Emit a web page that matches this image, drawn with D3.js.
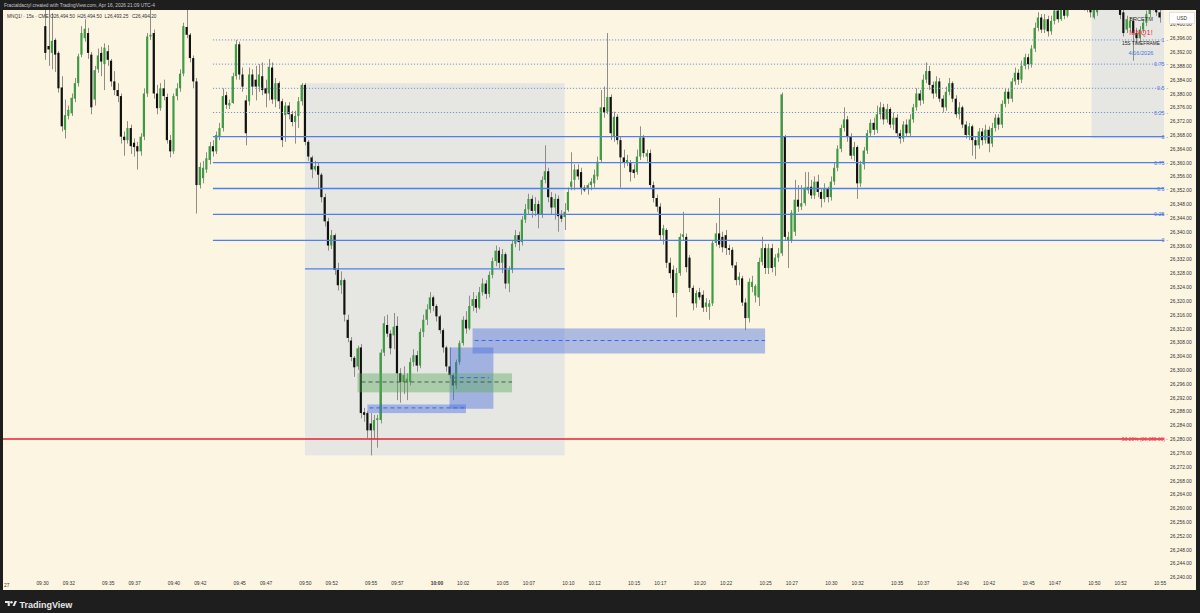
<!DOCTYPE html>
<html><head><meta charset="utf-8">
<script src="https://cdn.jsdelivr.net/npm/d3@7/dist/d3.min.js"></script>
<style>
html,body{margin:0;padding:0;background:#1e1e1e;}
svg{display:block;}
text{font-family:"Liberation Sans","DejaVu Sans",Arial,sans-serif;}
</style></head><body>
<svg id="chart" width="1200" height="613"></svg>
<script>
// ---------------- data ----------------
const startTime = "09:30:15";   // time of first visible candle (15 s bars)
const stepSeconds = 15;
const opens = [
26399.5,26393.75,26391.75,26395.5,26391.75,26381.75,26369.5,26373.5,26374.25,26378.5,
26383,26391.25,26396,26397.5,26391.25,26378.25,26387,26391.75,26388.5,26392.25,
26389.5,26383.5,26381,26379.25,26367.5,26366.5,26370,26365.75,26364.75,26363.25,
26367.5,26380,26396.5,26397.5,26380,26375.75,26381.5,26379,26366.5,26363.25,
26379.25,26381.5,26385.75,26399.25,26397,26390.25,26383.5,26353.5,26355.5,26358,
26360.75,26364.75,26363.25,26367.5,26370,26379.5,26376.5,26377.25,26385,26394.25,
26385.5,26378,26377.75,26385.5,26384,26382,26385,26381.5,26380,26387.5,
26378.25,26383,26377.75,26373.75,26376.5,26374,26371.75,26373.5,26377.75,26382.5,
26366,26361.5,26358,26359,26356.5,26350,26343,26336,26339,26329,
26324.5,26326,26314.5,26308.5,26303.5,26301,26306.5,26287.75,26287.5,26284.5,
26282.5,26285.5,26285.5,26305,26313,26310.5,26310,26312.75,26299,26296.5,
26296.5,26296.5,26302.25,26304.25,26301.25,26311,26314.5,26317.5,26321,26318.5,
26315.5,26311.5,26306.5,26301,26298.5,26295.5,26302.25,26307.75,26314.5,26312,
26318.5,26320.5,26318,26322.5,26325,26322,26327.5,26331.5,26334.5,26331,
26333.5,26325,26329,26336.5,26339,26337,26343.5,26346.5,26349.5,26346,
26348,26345,26355,26357.5,26350,26347,26349.5,
26344.75,26344.25,26346.25,26353,26355,26358,26357.25,26352.75,26352.5,26353.5,26354,26356,26360.75,26376,26374.75,26379,26367.5,26373.25,26366.5,26361.5,26360,26360,26358,26357.25,26361.75,26367.25,26361.75,26362.75,26353.5,26349.75,26347.25,26339,26340.5,26331,26329,26322.25,26328,26338.5,26338.5,26332.5,26323.75,26319.25,26322.5,26321.75,26318.25,26318.25,26319.25,26336.75,26339.5,26338.5,26339,26335.25,26334.75,26330.25,26326,26326.5,26319.5,26315,26324,26321.5,26321,26331.25,26335.25,26329.5,26335.25,26329.75,26332.5,26333.75,26367.5,26337.5,26337.5,26340,26349.25,26347.25,26348.25,26352,
26353,26350.5,26354.5,26351.5,26349.5,26352.5,26350,26354.5,26358.5,26364,
26370,26372.5,26367.5,26362,26364.5,26354,26359.5,26363.5,26368.5,26371.5,
26369.5,26374,26376,26372.5,26375.5,26371,26373,26368.5,26367,26371,
26368.5,26372.5,26376,26380,26378,26384,26386.5,26382.5,26380,26383.5,
26378.5,26376,26380.5,26383,26378.5,26374,26376,26371,26368,26370.5,
26366.5,26365,26369,26366.5,26369.5,26365.5,26370,26373,26371,26377,
26380.5,26378.5,26383.5,26386,26384,26388,26390.5,26388.5,26393,26399,
26402,26398.5,26401.5,26398,26401,26404,26401.5,26404.5,26402.5,26406,
26409,26406.5,26409.5,26406,26408,26405,26402,26403.5,26405,26408,
26411,26409,26411.5,26408,26404.25,26403.5,26398.5,26399,26401,26397.5,
26396,26398.5,26400.5,26403,26405,26406.5,26403.5];
const highs = [
26406,26405.5,26403.25,26396,26392.25,26385,26378.25,26376.5,26380,26384.5,
26391.5,26399.5,26401.5,26399,26392,26388,26393,26393.5,26394.5,26394,
26390,26386.5,26383,26380,26369,26372,26371,26367,26366,26368.5,
26381.5,26397.5,26404.5,26398.5,26382.5,26383,26384,26380,26368,26380,
26383,26387,26400.5,26405.5,26397.5,26391,26384.5,26360,26360.5,26363,
26366,26366.5,26369,26371.5,26381.5,26380.5,26378.25,26386,26395.5,26395,
26387.5,26379.5,26387.5,26387,26388,26388.5,26389,26384,26390,26389,
26384.5,26383.5,26378.5,26377.5,26377.5,26375,26375,26379,26383,26383,
26366.5,26362,26360.5,26360,26357,26351,26344,26340.5,26339.5,26331,
26328.5,26326.5,26316,26309.5,26304,26307,26307.5,26289,26288,26287.5,
26287,26287,26306,26315.5,26316,26311.5,26316.5,26315.5,26300.5,26301,
26299,26303.5,26306,26305.5,26312,26316,26319,26322.5,26321.5,26319,
26316,26312,26307,26306.5,26299,26303,26308.5,26315.5,26317,26321.5,
26322.5,26321.5,26324,26326.5,26326,26328.5,26332.5,26336,26335.5,26335,
26334,26330,26337.5,26340.5,26340,26344.5,26348,26351,26350.5,26350,
26349,26356,26365,26358.5,26351.5,26351,26350.5,
26346.25,26348.25,26352.75,26363,26359.5,26359.5,26358.5,26353.5,26354,26355.5,26358,26361.75,26381,26382,26397.5,26379.75,26374.75,26374,26367.5,26363.75,26362.25,26360.75,26359.5,26363.75,26370.5,26368,26363.75,26363.75,26354.5,26350.75,26348.25,26342,26341,26332.5,26330.25,26329.5,26339.5,26345.75,26339.5,26333.25,26324.5,26323,26323.75,26323,26320.75,26320.25,26337.5,26342.5,26349.75,26340,26340.5,26336.25,26335.5,26331.25,26328.25,26327.25,26320.75,26326.5,26327.25,26324.75,26332.5,26338.5,26336.5,26336.5,26336.5,26333.5,26335.25,26380.25,26368,26340,26346.25,26355,26353.5,26353.5,26357.25,26357.25,
26355,26356,26356.5,26352.5,26354,26353,26356,26360,26365,26371,
26376,26373.5,26368.5,26366,26365,26360.5,26364.5,26369.5,26372.5,26373,
26376.5,26377.5,26377,26377,26376,26374.5,26374,26369.5,26372,26372.5,
26374,26377,26381.5,26381,26385.5,26389,26388,26383.5,26385,26384.5,
26379.5,26382,26384.5,26383.5,26379.5,26377.5,26376.5,26372,26371.5,26371,
26367.5,26370,26370,26371,26370.5,26371.5,26374,26374,26378,26381.5,
26381.5,26384.5,26387.5,26387,26389.5,26391.5,26391.5,26394,26400.5,26403.5,
26403,26403,26402.5,26402.5,26406,26405.5,26407,26406,26408,26410.5,
26410,26411,26410,26409.5,26409,26406,26406,26407,26409.5,26412.5,
26412,26413,26412,26409,26405.5,26404.5,26402.5,26402,26402,26399,
26399.5,26401.5,26404,26406.5,26408,26407.5,26405];
const lows = [
26389.75,26388,26387,26386.25,26380.25,26369,26367,26372.5,26373.5,26377.5,
26382,26390.5,26395,26390,26374,26376.5,26386,26385,26381,26388,
26382,26379.5,26377.5,26365.5,26362,26365.5,26362.5,26361.75,26358,26362,
26366.5,26379,26395.5,26378.5,26374,26375,26378,26365.5,26361.5,26362.5,
26378,26380.5,26385,26396,26389,26381.5,26345.25,26352.5,26354,26357,
26359.5,26361.75,26362.5,26366.5,26369,26375.5,26375.5,26377,26384,26384,
26380.5,26365,26376.5,26379.5,26378,26380.5,26379.5,26376,26378,26377,
26376,26375.5,26364.5,26366,26372.5,26370.5,26365.5,26370,26376.5,26365,
26360.5,26355.5,26357.5,26352.5,26348.5,26341.5,26334.5,26335,26327.5,26323,
26322,26314,26308,26302.5,26298,26300,26286,26285,26280.25,26275.25,
26280,26277.5,26284.5,26304,26309.5,26304.5,26306,26291.25,26290.5,26293,
26291.25,26295.5,26301,26299.5,26300.5,26309.5,26313,26316.5,26317,26314,
26310.5,26305,26299.5,26297.5,26291.25,26294.5,26301.5,26307,26310.5,26311.5,
26317,26316.5,26317.5,26321.5,26320.5,26321,26326.5,26330,26329.5,26328,
26323.5,26322.5,26328,26335.5,26334.5,26336,26342.5,26345,26344,26344.5,
26341,26344,26354,26348.5,26345,26343.5,26340,
26342.75,26340.5,26345.75,26352,26352,26355,26350.75,26351.5,26350.75,26352,26352.75,26355,26360,26373,26374,26366.5,26366,26365.25,26352.75,26358.5,26359,26354.5,26355.5,26356.5,26360.75,26361.5,26360.25,26352.75,26348.5,26345.75,26337.5,26336.25,26329.5,26326.5,26321,26315.25,26327.25,26337.5,26328.25,26322.5,26317.25,26318,26320.25,26316.75,26316.75,26314.5,26318.5,26335.75,26335.25,26334,26333.25,26333.25,26329.5,26324.5,26324.5,26318.5,26311.5,26313.75,26322.5,26319.5,26318.5,26330.25,26327.75,26327.75,26328.25,26327.25,26331.25,26333,26337.5,26329.5,26336.75,26338.75,26345.75,26346.25,26347.5,26351,
26349.5,26349.5,26350,26347,26348.5,26348.5,26349,26353.5,26357.5,26363,
26369,26366,26361,26360.5,26349.5,26353,26358,26362.5,26367.5,26368,
26368.5,26372.5,26371,26371.5,26370,26369.5,26367.5,26365.5,26366,26367.5,
26367.5,26371.5,26375,26376.5,26377,26383,26381,26378.5,26379,26377.5,
26374.5,26375,26379.5,26377.5,26373,26372.5,26370,26367,26366.5,26362,
26361,26364,26365,26365.5,26363,26364.5,26369,26369.5,26370,26376,
26377,26377.5,26382.5,26382.5,26383,26387,26387,26387.5,26392,26398,
26397.5,26397.5,26396.5,26397,26400,26400.5,26401,26401.5,26402,26405,
26405.5,26405.5,26404.5,26404,26403.5,26402,26401.5,26402.5,26404.5,26407,
26407.5,26408,26406.5,26404.5,26401.5,26396.5,26397.5,26398,26389.5,26394.5,
26395,26397.5,26399.5,26402,26404,26402.5,26400.5];
const closes = [
26391.75,26392.75,26395.25,26391.25,26381.5,26370.5,26373.75,26375.25,26378.75,26383,
26390.75,26397.5,26398.75,26391.75,26376,26386.75,26391,26389.25,26393.25,26389.75,
26383.5,26381,26379.25,26367.5,26366.5,26370,26364.75,26364.5,26363.25,26367.5,
26380,26396.5,26397,26380,26375.75,26381.5,26379.25,26366.5,26363.25,26379.25,
26381.5,26385.75,26399.5,26397,26390.25,26383.5,26353.5,26358.75,26358.5,26361.25,
26364.75,26363.25,26368,26370,26379.25,26376.75,26377.25,26385,26394.25,26385.5,
26382,26368.5,26385.5,26382,26382,26385.5,26381,26380,26387.75,26378.25,
26383,26377.75,26366.5,26376.5,26374,26371.75,26373.5,26377.75,26382.5,26366,
26361.75,26358,26359,26356.5,26350,26343,26336,26339,26329,26324.5,
26326,26316,26309.25,26303.75,26300.75,26306.25,26287.5,26287,26282.5,26282.5,
26285.5,26286,26305,26313.5,26310.5,26306.25,26312.5,26299,26296.5,26298.5,
26297.5,26302.25,26304.25,26301.25,26311,26314.5,26317.5,26321,26318.5,26315.5,
26311.5,26306.5,26301,26298.5,26295.5,26302.25,26307.75,26314.5,26312,26318.5,
26320.5,26318,26322.5,26325,26322,26327.5,26331.5,26334.5,26331,26333.5,
26325,26329,26336.5,26339,26337,26343.5,26346.5,26349.5,26346,26348,
26345,26355,26357.5,26350,26347,26349.5,26344.5,
26343.75,26345.75,26351.5,26354.5,26358,26356,26352.75,26352,26353.5,26354.5,26356.5,26360.25,26376,26374.5,26379,26368.5,26373.25,26366.5,26361.5,26360,26360.75,26357.25,26357,26361.75,26367.25,26362.75,26362.75,26353.5,26349.75,26347.25,26339,26341,26331,26328,26322.25,26328,26338.5,26339.25,26329.75,26323.75,26319.25,26322.25,26321,26318,26319.5,26319.25,26336.75,26339.5,26336.25,26335.5,26335.25,26334.75,26330.25,26326,26327,26319.5,26315,26325.5,26325.5,26324.25,26331.25,26335.25,26329.5,26335.25,26329.5,26332.5,26333.75,26379.75,26338.5,26338.5,26345.5,26349.25,26347.25,26348.25,26352.75,26353,
26350.5,26354.5,26351.5,26349.5,26352.5,26350,26354.5,26358.5,26364,26370,
26372.5,26367.5,26362,26364.5,26354,26359.5,26363.5,26368.5,26371.5,26369.5,
26374,26376,26372.5,26375.5,26371,26373,26368.5,26367,26371,26368.5,
26372.5,26376,26380,26378,26384,26386.5,26382.5,26380,26383.5,26378.5,
26376,26380.5,26383,26378.5,26374,26376,26371,26368,26370.5,26366.5,
26365,26369,26366.5,26369.5,26365.5,26370,26373,26371,26377,26380.5,
26378.5,26383.5,26386,26384,26388,26390.5,26388.5,26393,26399,26402,
26398.5,26401.5,26398,26401,26404,26401.5,26404.5,26402.5,26406,26409,
26406.5,26409.5,26406,26408,26405,26403.5,26404.25,26405,26408,26411,
26409,26411.5,26408,26405.5,26402.75,26397.5,26401.5,26401,26397.5,26396,
26398.5,26400.5,26403,26405,26406.5,26403.5,26402];

const priceTicks = [26240,26244,26248,26252,26256,26260,26264,26268,26272,26276,26280,26284,26288,26292,26296,26300,26304,26308,26312,26316,26320,26324,26328,26332,26336,26340,26344,26348,26352,26356,26360,26364,26368,26372,26376,26380,26384,26388,26392,26396,26400];
const timeTicks = ["09:30","09:32","09:35","09:37","09:40","09:42","09:45","09:47","09:50","09:52","09:55","09:57","10:00","10:02","10:05","10:07","10:10","10:12","10:15","10:17","10:20","10:22","10:25","10:27","10:30","10:32","10:35","10:37","10:40","10:42","10:45","10:47","10:50","10:52","10:55"];
const partialTick = "27";   // "09:27" cut at the left edge

// drawings (time, price)
const grayBoxes = [["09:50:00","10:09:45",26383.0,26275.25],["10:49:50","10:56:00",26420,26367.0]];
const fibUpperLevels = [26367.5,26374.5,26381.5,26388.5,26395.5];
const fibUpperLabels = ["0","0.25","0.5","0.75","1"];
const fibLowerLevels = [26337.5,26345,26352.5,26360,26367.5];
const fibLowerLabels = ["0","0.25","0.5","0.75","1"];
const fibStart = "09:43:00";
const midLine = ["09:50:00","10:09:45",26329.25];
const redLevel = 26280;
const redLabel = "50.00% (26,280.00)";
const blueZones = [["10:02:45","10:25:00",26312.0,26304.75,26308.5],["10:01:00","10:04:20",26306.5,26288.75,null],["09:54:45","10:02:15",26290.0,26287.5,26289.0]];
const greenZones = [["09:54:00","10:05:45",26299.0,26293.5,26296.5]];
const blueDash = [["10:01:15","10:04:00",26297.75]];
const header = "Fractaldactyl created with TradingView.com, Apr 16, 2026 21:09 UTC-4";
const legendSym = "MNQ1! · 15s · CME";
const legendOHLC = ["O26,494.50","H26,494.50","L26,493.25","C26,494.20"];
const noteLines = ["BRCETM","MNQ1!","15S TIMEFRAME","4/16/2026"];

// ---------------- drawing ----------------
const W = 1200, H = 613;
const plot = {l:3, r:1164, t:10, b:579};
const svg = d3.select("#chart");
const pT = d3.timeParse("%H:%M:%S");
const pM = d3.timeParse("%H:%M");
const x = d3.scaleTime().domain([pT("09:30:00"), pT("10:55:00")]).range([42, 1159.5]);
const y = d3.scaleLinear().domain([26240, 26280]).range([577.2, 439]);
const t0 = pT(startTime);
const times = closes.map((_, i) => new Date(t0.getTime() + i * stepSeconds * 1000));
const barW = (x(new Date(t0.getTime() + stepSeconds*1000)) - x(t0)) * 0.66;

svg.append("rect").attr("width", W).attr("height", H).attr("fill", "#1e1e1e");
svg.append("rect").attr("x", plot.l).attr("y", plot.t).attr("width", 1196 - plot.l).attr("height", 590 - plot.t).attr("fill", "#fbf5e2");

const defs = svg.append("defs");
defs.append("clipPath").attr("id", "clip").append("rect")
  .attr("x", plot.l).attr("y", plot.t).attr("width", plot.r - plot.l).attr("height", plot.b - plot.t);
const g = svg.append("g").attr("clip-path", "url(#clip)");

// gray boxes
g.selectAll(".gb").data(grayBoxes).join("rect")
  .attr("x", d => x(pT(d[0]))).attr("y", d => y(d[2]))
  .attr("width", d => x(pT(d[1])) - x(pT(d[0]))).attr("height", d => y(d[3]) - y(d[2]))
  .attr("fill", "#e6e6e2");

// candles
const cg = g.append("g");
const idx = d3.range(closes.length);
cg.selectAll(".wick").data(idx).join("line")
  .attr("x1", i => Math.round(x(times[i])) + 0.5).attr("x2", i => Math.round(x(times[i])) + 0.5)
  .attr("y1", i => y(highs[i])).attr("y2", i => y(lows[i]))
  .attr("stroke", "#8e8e86").attr("stroke-width", 1);
cg.selectAll(".body").data(idx).join("rect")
  .attr("x", i => x(times[i]) - barW/2)
  .attr("y", i => y(Math.max(opens[i], closes[i])))
  .attr("width", barW)
  .attr("height", i => Math.max(0.8, Math.abs(y(opens[i]) - y(closes[i]))))
  .attr("fill", i => closes[i] >= opens[i] ? "#3d9b41" : "#111111");

// fib lines
const fibX0 = x(pT(fibStart));
g.selectAll(".fu").data(fibUpperLevels.slice(1)).join("line")
  .attr("x1", fibX0).attr("x2", plot.r).attr("y1", d => y(d)).attr("y2", d => y(d))
  .attr("stroke", "#7f93d6").attr("stroke-width", 1).attr("stroke-dasharray", "1.2,1.8");
g.selectAll(".fl").data(fibLowerLevels).join("line")
  .attr("x1", fibX0).attr("x2", plot.r).attr("y1", d => y(d)).attr("y2", d => y(d))
  .attr("stroke", "#4f7fe8").attr("stroke-width", 1.3);
g.append("line").attr("x1", x(pT(midLine[0]))).attr("x2", x(pT(midLine[1])))
  .attr("y1", y(midLine[2])).attr("y2", y(midLine[2])).attr("stroke", "#4f7fe8").attr("stroke-width", 1.2);

// zones
g.selectAll(".bz").data(blueZones).join("rect")
  .attr("x", d => x(pT(d[0]))).attr("y", d => y(d[2]))
  .attr("width", d => x(pT(d[1])) - x(pT(d[0]))).attr("height", d => y(d[3]) - y(d[2]))
  .attr("fill", "rgb(60,100,222)").attr("fill-opacity", 0.4);
g.selectAll(".bzl").data(blueZones.filter(d => d[4] !== null)).join("line")
  .attr("x1", d => x(pT(d[0])) + 2).attr("x2", d => x(pT(d[1])))
  .attr("y1", d => y(d[4])).attr("y2", d => y(d[4]))
  .attr("stroke", "#3c64f0").attr("stroke-width", 1).attr("stroke-dasharray", "4,3");
g.selectAll(".gz").data(greenZones).join("rect")
  .attr("x", d => x(pT(d[0]))).attr("y", d => y(d[2]))
  .attr("width", d => x(pT(d[1])) - x(pT(d[0]))).attr("height", d => y(d[3]) - y(d[2]))
  .attr("fill", "rgb(90,170,90)").attr("fill-opacity", 0.42);
g.selectAll(".gzl").data(greenZones).join("line")
  .attr("x1", d => x(pT(d[0])) + 4).attr("x2", d => x(pT(d[1])))
  .attr("y1", d => y(d[4])).attr("y2", d => y(d[4]))
  .attr("stroke", "#4b5a5a").attr("stroke-width", 1).attr("stroke-dasharray", "4,3");
g.selectAll(".bd").data(blueDash).join("line")
  .attr("x1", d => x(pT(d[0]))).attr("x2", d => x(pT(d[1])))
  .attr("y1", d => y(d[2])).attr("y2", d => y(d[2]))
  .attr("stroke", "#3c64f0").attr("stroke-width", 1).attr("stroke-dasharray", "4,3");

// red level
g.append("line").attr("x1", plot.l).attr("x2", plot.r).attr("y1", y(redLevel)).attr("y2", y(redLevel))
  .attr("stroke", "#e52238").attr("stroke-width", 1.6);

// level labels
const lab = svg.append("g").attr("text-anchor", "end");
const fibAll = fibUpperLevels.map((v, i) => [v, fibUpperLabels[i]]).concat(fibLowerLevels.slice(0, 4).map((v, i) => [v, fibLowerLabels[i]]));
lab.selectAll(".fb").data(fibAll).join("text").attr("font-size", 5.5)
  .attr("x", 1168).attr("y", d => y(d[0]) + 2).attr("fill", "#4a78e6").text(d => d[1] + " -");
lab.append("text").attr("font-size", 4.9).attr("x", 1168).attr("y", y(redLevel) + 1.8).attr("fill", "#ee3347").text(redLabel + " -");

// note box text
const nt = svg.append("g").attr("text-anchor", "middle");
nt.append("text").attr("x", 1141).attr("y", 21).attr("font-size", 5.6).attr("fill", "#333").text(noteLines[0]);
nt.append("text").attr("x", 1141).attr("y", 34.5).attr("font-size", 7.4).attr("fill", "#e8334a").text(noteLines[1]);
nt.append("text").attr("x", 1141).attr("y", 45).attr("font-size", 4.8).attr("fill", "#222").text(noteLines[2]);
nt.append("text").attr("x", 1141).attr("y", 55).attr("font-size", 5.6).attr("fill", "#4a78e6").text(noteLines[3]);

// price axis
const ya = svg.append("g").attr("transform", "translate(1170,0)")
  .call(d3.axisRight(y).tickValues(priceTicks).tickSize(0).tickPadding(0).tickFormat(d3.format(",.2f")));
ya.select(".domain").remove();
ya.selectAll("text").attr("font-size", 4.9).attr("fill", "#333").attr("font-family", "Liberation Sans, Arial, sans-serif");
svg.append("rect").attr("x", 1196).attr("y", 0).attr("width", 4).attr("height", H).attr("fill", "#1e1e1e");
// USD box
svg.append("rect").attr("x", 1169.5).attr("y", 12.5).attr("width", 25).attr("height", 11).attr("fill", "#fff").attr("stroke", "#d0d0d0").attr("stroke-width", 0.6);
svg.append("text").attr("x", 1182).attr("y", 20).attr("text-anchor", "middle").attr("font-size", 4.9).attr("fill", "#333").text("USD");

// time axis
const xa = svg.append("g").attr("transform", `translate(0,${plot.b})`)
  .call(d3.axisBottom(x).tickValues(timeTicks.map(pM)).tickSize(0).tickPadding(3).tickFormat(d3.timeFormat("%H:%M")));
xa.select(".domain").remove();
xa.selectAll("text").attr("font-size", 4.9).attr("fill", "#333").attr("font-family", "Liberation Sans, Arial, sans-serif")
  .attr("font-weight", d => d3.timeFormat("%H:%M")(d) === "10:00" ? "bold" : "normal");
svg.append("text").attr("x", 4).attr("y", plot.b + 7.6).attr("font-size", 4.9).attr("fill", "#333").text(partialTick);
svg.append("rect").attr("x", 0).attr("y", 0).attr("width", plot.l).attr("height", H).attr("fill", "#1e1e1e");
svg.append("rect").attr("x", 0).attr("y", 590).attr("width", W).attr("height", H - 590).attr("fill", "#1e1e1e");
svg.append("rect").attr("x", 0).attr("y", 0).attr("width", W).attr("height", plot.t).attr("fill", "#1e1e1e");

// header + legend
svg.append("text").attr("x", 4).attr("y", 7).attr("font-size", 4.8).attr("fill", "#c8c8c8").text(header);
const lg = svg.append("g").attr("font-size", 4.75).attr("fill", "#333");
lg.append("text").attr("x", 7).attr("y", 18).text(legendSym);
lg.selectAll(".o").data(legendOHLC).join("text").attr("x", (d, i) => 50 + i * 27.3).attr("y", 18).text(d => d);

// TradingView logo
const lo = svg.append("g").attr("transform", "translate(5,601)").attr("fill", "#e6e6e6");
lo.append("path").attr("d", "M0,0h4.8v5h-2.1v-2.9h-2.7z");
lo.append("circle").attr("cx", 6.4).attr("cy", 1.3).attr("r", 1.3);
lo.append("path").attr("d", "M7.6,5l2.1,-5h2.2l-2.1,5z");
svg.append("text").attr("x", 19.5).attr("y", 607.5).attr("font-size", 9).attr("font-weight", "bold").attr("fill", "#e6e6e6").text("TradingView");
</script></body></html>
